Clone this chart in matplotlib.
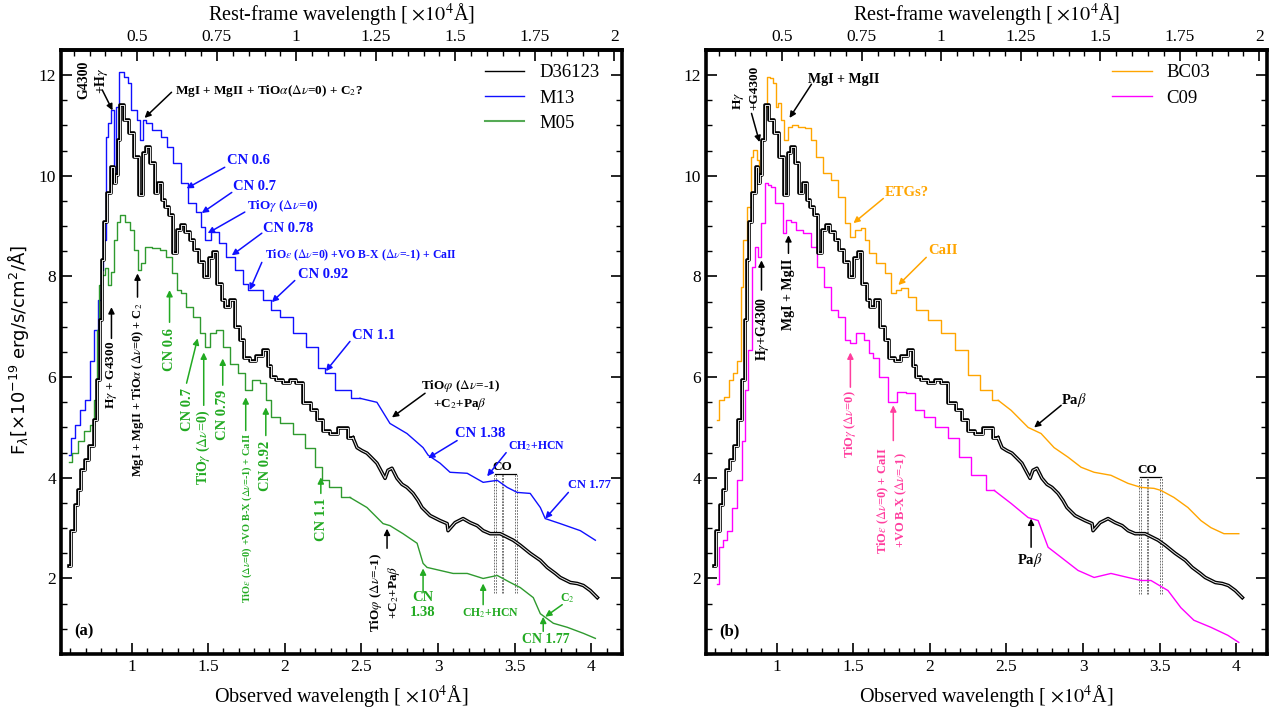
import matplotlib
matplotlib.use("Agg")
import matplotlib.pyplot as plt
from matplotlib.lines import Line2D
from matplotlib.ticker import MultipleLocator, FixedLocator, FuncFormatter

plt.rcParams["font.family"] = ["Liberation Serif", "DejaVu Serif"]
plt.rcParams["mathtext.fontset"] = "stix"

Z1 = 2.075  # 1 + z of D36123

# observed wavelength [1e4 A] and flux [1e-19 erg/s/cm2/A]
d361_wave = [0.595, 0.621, 0.641, 0.660, 0.686, 0.712, 0.739, 0.765, 0.784, 0.804,
             0.817, 0.830, 0.856, 0.876, 0.889, 0.902, 0.915, 0.935, 0.967, 1.000,
             1.033, 1.059, 1.085, 1.105, 1.137, 1.163, 1.183, 1.209, 1.229, 1.255,
             1.281, 1.307, 1.333, 1.366, 1.392, 1.425, 1.458, 1.490, 1.516, 1.542,
             1.575, 1.601, 1.621, 1.660, 1.693, 1.719, 1.752, 1.791, 1.837, 1.882,
             1.902, 1.922, 1.967, 2.013, 2.052, 2.098, 2.144, 2.196, 2.229, 2.275,
             2.314, 2.379, 2.444, 2.471, 2.503, 2.536, 2.569, 2.601, 2.654, 2.673,
             2.699, 2.732, 2.765, 2.797, 2.837, 2.869, 2.895, 2.948, 3.013, 3.059,
             3.065, 3.111, 3.163, 3.209, 3.255, 3.294, 3.340, 3.405, 3.451, 3.490,
             3.536, 3.601, 3.667, 3.712, 3.765, 3.797, 3.863, 3.908, 3.948, 3.993,
             4.039]
d361_flux = [2.24, 2.95, 3.45, 3.75, 4.15, 4.35, 4.64, 5.14, 5.94, 7.13,
             8.32, 9.08, 9.65, 10.17, 9.85, 10.01, 10.71, 11.40, 11.11, 10.85,
             10.37, 9.61, 10.45, 10.57, 10.25, 9.65, 9.85, 9.51, 9.38, 9.22,
             8.46, 8.92, 9.02, 8.88, 8.72, 8.52, 8.28, 7.98, 8.36, 8.48,
             7.86, 7.53, 7.39, 7.53, 6.99, 6.73, 6.39, 6.33, 6.43, 6.53,
             6.23, 6.00, 5.94, 5.88, 5.94, 5.88, 5.48, 5.34, 5.14, 4.94,
             4.88, 4.98, 4.80, 4.60, 4.54, 4.49, 4.39, 4.29, 3.99, 4.15,
             4.19, 3.99, 3.87, 3.81, 3.69, 3.55, 3.41, 3.25, 3.15, 3.09,
             2.95, 3.11, 3.19, 3.11, 3.05, 2.95, 2.89, 2.89, 2.82, 2.76,
             2.66, 2.50, 2.36, 2.22, 2.10, 2.02, 1.92, 1.90, 1.86, 1.76,
             1.62]

m13_wave = [0.595, 0.614, 0.647, 0.680, 0.712, 0.745, 0.771, 0.791, 0.810, 0.824,
            0.837, 0.856, 0.876, 0.895, 0.908, 0.935, 0.967, 0.987, 1.000, 1.026,
            1.039, 1.065, 1.085, 1.105, 1.163, 1.216, 1.248, 1.294, 1.346, 1.392,
            1.444, 1.464, 1.490, 1.542, 1.595, 1.641, 1.706, 1.752, 1.771, 1.817,
            1.902, 1.922, 2.013, 2.098, 2.183, 2.248, 2.275, 2.379, 2.490, 2.601,
            2.686, 2.797, 2.902, 2.935, 3.013, 3.078, 3.190, 3.294, 3.386, 3.451,
            3.516, 3.601, 3.667, 3.699, 3.797, 3.928, 4.026]
m13_flux = [4.45, 4.80, 5.04, 5.34, 5.54, 6.33, 6.93, 7.53, 8.12, 8.72,
            10.77, 11.05, 11.30, 9.97, 11.36, 12.06, 11.96, 11.84, 11.30, 11.30,
            11.11, 10.71, 11.11, 11.05, 10.91, 10.77, 10.57, 10.25, 9.85, 9.46,
            9.29, 8.98, 8.72, 8.88, 8.66, 8.38, 8.12, 7.86, 7.73, 7.73,
            7.53, 7.33, 7.19, 6.87, 6.59, 6.19, 6.08, 5.74, 5.58, 5.50,
            5.08, 4.88, 4.60, 4.45, 4.29, 4.11, 4.09, 3.91, 3.95, 3.81,
            3.71, 3.69, 3.41, 3.19, 3.09, 2.95, 2.76]

m05_wave = [0.595, 0.634, 0.673, 0.712, 0.745, 0.771, 0.784, 0.797, 0.817, 0.837,
            0.856, 0.876, 0.895, 0.915, 0.941, 0.974, 1.000, 1.033, 1.052, 1.072,
            1.105, 1.163, 1.203, 1.248, 1.281, 1.314, 1.333, 1.379, 1.425, 1.464,
            1.490, 1.529, 1.575, 1.621, 1.660, 1.725, 1.758, 1.817, 1.856, 1.902,
            1.922, 2.013, 2.098, 2.163, 2.229, 2.261, 2.314, 2.425, 2.536, 2.641,
            2.686, 2.771, 2.863, 2.902, 2.928, 3.013, 3.098, 3.190, 3.294, 3.386,
            3.471, 3.536, 3.621, 3.667, 3.752, 3.843, 3.948, 4.026]
m05_flux = [4.31, 4.50, 4.74, 4.94, 5.04, 5.54, 6.93, 7.83, 8.02, 8.16,
            7.83, 8.08, 8.72, 9.08, 9.22, 9.08, 8.92, 8.52, 8.12, 8.26,
            8.58, 8.56, 8.52, 8.38, 8.06, 7.73, 7.67, 7.39, 7.19, 6.87,
            6.59, 6.87, 6.93, 6.59, 6.27, 6.08, 5.74, 5.94, 5.88, 5.54,
            5.20, 5.08, 4.88, 4.60, 4.21, 3.95, 3.81, 3.61, 3.41, 3.09,
            3.05, 2.89, 2.70, 2.30, 2.22, 2.16, 2.10, 2.10, 2.00, 2.06,
            1.92, 1.82, 1.62, 1.30, 1.11, 1.03, 0.91, 0.81]

bc03_wave = [0.609, 0.642, 0.674, 0.707, 0.726, 0.759, 0.772, 0.792, 0.824, 0.837,
             0.857, 0.883, 0.889, 0.915, 0.928, 0.948, 0.967, 0.987, 1.000, 1.020,
             1.033, 1.065, 1.085, 1.117, 1.163, 1.208, 1.241, 1.274, 1.339, 1.378,
             1.423, 1.469, 1.489, 1.534, 1.567, 1.586, 1.619, 1.684, 1.730, 1.762,
             1.795, 1.834, 1.879, 1.945, 2.029, 2.121, 2.205, 2.290, 2.368, 2.446,
             2.531, 2.642, 2.726, 2.811, 2.902, 2.987, 3.072, 3.182, 3.293, 3.378,
             3.463, 3.508, 3.593, 3.684, 3.769, 3.834, 3.919, 4.016]
bc03_flux = [5.14, 5.54, 5.60, 5.94, 6.08, 6.33, 7.79, 8.72, 9.38, 10.37,
             10.51, 10.31, 10.05, 10.71, 11.36, 11.96, 11.94, 11.84, 11.36, 11.44,
             11.11, 10.71, 10.97, 11.01, 10.97, 10.95, 10.71, 10.37, 10.05, 9.91,
             9.57, 9.06, 8.78, 8.92, 8.96, 8.72, 8.46, 8.26, 8.06, 7.67,
             7.73, 7.77, 7.59, 7.33, 7.13, 6.87, 6.53, 6.04, 5.74, 5.54,
             5.34, 5.00, 4.88, 4.60, 4.41, 4.21, 4.11, 4.05, 3.89, 3.81,
             3.79, 3.75, 3.61, 3.41, 3.15, 3.01, 2.89, 2.89]

c09_wave = [0.609, 0.642, 0.661, 0.694, 0.726, 0.759, 0.785, 0.805, 0.824, 0.850,
            0.870, 0.889, 0.915, 0.935, 0.954, 0.980, 1.000, 1.033, 1.052, 1.078,
            1.111, 1.143, 1.208, 1.248, 1.280, 1.339, 1.378, 1.423, 1.469, 1.489,
            1.554, 1.586, 1.619, 1.638, 1.697, 1.762, 1.814, 1.879, 1.932, 1.990,
            2.075, 2.160, 2.225, 2.316, 2.420, 2.531, 2.642, 2.707, 2.772, 2.857,
            2.967, 3.072, 3.182, 3.293, 3.378, 3.443, 3.554, 3.638, 3.723, 3.834,
            3.945, 4.016]
c09_flux = [1.90, 2.62, 2.76, 2.95, 3.41, 3.95, 4.74, 5.74, 6.53, 8.18,
            8.58, 8.38, 9.06, 9.85, 9.81, 9.77, 9.46, 9.46, 8.86, 9.12,
            9.08, 8.92, 8.86, 8.58, 8.18, 7.79, 7.33, 7.19, 6.73, 6.67,
            6.87, 6.73, 6.47, 6.39, 6.00, 5.50, 5.70, 5.68, 5.34, 5.20,
            5.00, 4.80, 4.41, 4.05, 3.75, 3.49, 3.21, 3.15, 2.62, 2.42,
            2.16, 2.02, 2.10, 2.02, 1.96, 1.96, 1.76, 1.42, 1.17, 1.03,
            0.87, 0.73]

co_band = [3.37, 3.42, 3.51]

BLUE = "#1010ff"
GREEN_LINE = "#2f9a2f"
GREEN_TXT = "#22aa22"
ORANGE = "#ffa500"
MAGENTA = "#ff00ff"
PINK = "#ff3d9e"

STEP_END = 2.4  # the binning gets fine redwards of this, draw it as a plain line


def spectrum(ax, wave, flux, **kw):
    n = next(i for i, w in enumerate(wave) if w > STEP_END)
    ax.plot(wave[:n + 1], flux[:n + 1], drawstyle="steps-mid", **kw)
    ax.plot(wave[n:], flux[n:], **kw)


def note(ax, s, xy, tail=None, tip=None, color="k", size=10, rot=0,
         ha="left", va="center", ma="center"):
    ax.text(xy[0], xy[1], s, color=color, fontsize=size, rotation=rot, ha=ha,
            va=va, fontweight="bold", multialignment=ma, zorder=6)
    if tail is not None:
        ax.annotate("", xy=tip, xytext=tail, zorder=6,
                    arrowprops=dict(arrowstyle="-|>", color=color, lw=1.1,
                                    mutation_scale=9, shrinkA=0, shrinkB=0))


def co_marker(ax, y_top, y_bot, y_txt):
    ax.plot([co_band[0], co_band[-1]], [y_top, y_top], color="k", lw=0.9)
    for x in co_band:
        for dx in (-0.005, 0.005):
            ax.plot([x + dx, x + dx], [y_bot, y_top], color="0.35", lw=0.6,
                    ls=(0, (2, 1.5)))
    ax.text(sum(co_band[:2]) / 2 + 0.025, y_txt, "CO", fontsize=9.5,
            fontweight="bold", ha="center", va="center")


def plot_d361(ax):
    spectrum(ax, d361_wave, d361_flux, color="k", lw=2.6, zorder=4)
    spectrum(ax, d361_wave, d361_flux, color="#e6e6e6", lw=0.7, zorder=5)


def style(ax):
    ax.set_xlim(0.54, 4.2)
    ax.set_ylim(0.5, 12.5)
    ax.xaxis.set_major_locator(MultipleLocator(0.5))
    ax.xaxis.set_minor_locator(MultipleLocator(0.1))
    ax.yaxis.set_major_locator(MultipleLocator(2))
    ax.yaxis.set_minor_locator(MultipleLocator(0.5))
    ax.xaxis.set_major_formatter(FuncFormatter(lambda v, p: f"{v:g}"))
    ax.tick_params(which="both", direction="in", top=False, right=True, labelsize=12.5)
    ax.tick_params(which="major", length=8, width=1.2)
    ax.tick_params(which="minor", length=4.5, width=1.0)
    for sp in ax.spines.values():
        sp.set_linewidth(2.6)
    ax.set_xlabel("Observed wavelength [ $\\times10^4$Å]", fontsize=14.5, labelpad=6)
    sec = ax.secondary_xaxis("top", functions=(lambda x: x / Z1, lambda x: x * Z1))
    sec.xaxis.set_major_locator(FixedLocator([0.5, 0.75, 1, 1.25, 1.5, 1.75, 2]))
    sec.xaxis.set_minor_locator(MultipleLocator(0.05))
    sec.xaxis.set_major_formatter(FuncFormatter(lambda v, p: f"{v:g}"))
    sec.tick_params(which="both", direction="in", labelsize=12.5)
    sec.tick_params(which="major", length=8, width=1.2)
    sec.tick_params(which="minor", length=4.5, width=1.0)
    sec.spines["top"].set_linewidth(2.6)
    sec.set_xlabel("Rest-frame wavelength [ $\\times10^4$Å]", fontsize=14.5, labelpad=6)


fig = plt.figure(figsize=(12.82, 7.1), dpi=100)
axL = fig.add_axes([0.0476, 0.0789, 0.4376, 0.8507])
axR = fig.add_axes([0.5507, 0.0789, 0.4376, 0.8507])

# ---------------- panel (a)
plot_d361(axL)
spectrum(axL, m13_wave, m13_flux, color=BLUE, lw=1.0, zorder=3)
spectrum(axL, m05_wave, m05_flux, color=GREEN_LINE, lw=1.0, zorder=3)
style(axL)
axL.legend(handles=[Line2D([], [], color="k", lw=1.0),
                    Line2D([], [], color=BLUE, lw=1.0),
                    Line2D([], [], color="#55aa55", lw=1.5)],
           labels=["D36123", "M13", "M05"], loc="upper left",
           bbox_to_anchor=(0.742, 0.989), frameon=False, fontsize=13.5,
           handlelength=2.1, handletextpad=0.8, labelspacing=0.44, borderaxespad=0)

note(axL, "G4300\n+H$\\gamma$", (0.752, 11.90), (0.810, 11.70), (0.876, 11.30),
     size=10, rot=90, ha="center")
note(axL, "MgI + MgII + TiO$\\alpha$($\\Delta\\nu$=0) + C$_2$?", (1.281, 11.68),
     (1.261, 11.66), (1.085, 11.15), size=9.5)
note(axL, "CN 0.6", (1.621, 10.31), (1.608, 10.17), (1.359, 9.75), BLUE, 10.5)
note(axL, "CN 0.7", (1.660, 9.79), (1.654, 9.67), (1.458, 9.26), BLUE, 10.5)
note(axL, "TiO$\\gamma$ ($\\Delta\\nu$=0)", (1.752, 9.40), (1.739, 9.28), (1.497, 8.86), BLUE, 9.5)
note(axL, "CN 0.78", (1.856, 8.96), (1.850, 8.86), (1.654, 8.42), BLUE, 10.5)
note(axL, "TiO$\\epsilon$ ($\\Delta\\nu$=0) +VO B-X ($\\Delta\\nu$=-1) + CaII",
     (1.869, 8.42), (1.850, 8.28), (1.771, 7.73), BLUE, 8.5)
note(axL, "CN 0.92", (2.085, 8.04), (2.065, 7.92), (1.915, 7.49), BLUE, 10.5)
note(axL, "CN 1.1", (2.438, 6.83), (2.425, 6.71), (2.268, 6.12), BLUE, 10.5)
note(axL, "TiO$\\varphi$ ($\\Delta\\nu$=-1)\n+C$_2$+Pa$\\beta$", (3.144, 5.64),
     (2.915, 5.68), (2.699, 5.20), size=9.5, ha="center")
note(axL, "CN 1.38", (3.111, 4.88), (3.124, 4.74), (2.935, 4.39), BLUE, 10.5)
note(axL, "CH$_2$+HCN", (3.458, 4.62), (3.444, 4.50), (3.320, 4.03), BLUE, 8.5)
note(axL, "CN 1.77", (3.850, 3.85), (3.850, 3.71), (3.699, 3.19), BLUE, 9)
co_marker(axL, 4.07, 1.72, 4.21)

note(axL, "H$\\gamma$ + G4300", (0.869, 6.04), (0.869, 6.77), (0.869, 7.39),
     size=9.5, rot=90, ha="center")
note(axL, "MgI + MgII + TiO$\\alpha$ ($\\Delta\\nu$=0) + C$_2$", (1.039, 7.49),
     (1.039, 7.59), (1.039, 8.06), size=9, rot=90, ha="center", va="top")
note(axL, "CN 0.6", (1.248, 6.97), (1.248, 7.09), (1.248, 7.73), GREEN_TXT, 10.5,
     rot=90, ha="center", va="top")
note(axL, "CN 0.7", (1.366, 5.78), (1.359, 5.88), (1.431, 6.77), GREEN_TXT, 10.5,
     rot=90, ha="center", va="top")
note(axL, "TiO$\\gamma$ ($\\Delta\\nu$=0)", (1.471, 5.34), (1.471, 5.44), (1.471, 6.49),
     GREEN_TXT, 10, rot=90, ha="center", va="top")
note(axL, "CN 0.79", (1.595, 5.74), (1.595, 5.84), (1.595, 6.37), GREEN_TXT, 10.5,
     rot=90, ha="center", va="top")
note(axL, "TiO$\\epsilon$ ($\\Delta\\nu$=0) +VO B-X ($\\Delta\\nu$=-1) + CaII",
     (1.752, 4.88), (1.745, 4.94), (1.745, 5.60), GREEN_TXT, 7.5, rot=90,
     ha="center", va="top")
note(axL, "CN 0.92", (1.876, 4.74), (1.876, 4.84), (1.876, 5.40), GREEN_TXT, 10.5,
     rot=90, ha="center", va="top")
note(axL, "CN 1.1", (2.242, 3.61), (2.235, 3.69), (2.235, 4.01), GREEN_TXT, 10.5,
     rot=90, ha="center", va="top")
note(axL, "TiO$\\varphi$ ($\\Delta\\nu$=-1)\n+C$_2$+Pa$\\beta$", (2.654, 1.72),
     (2.667, 2.60), (2.667, 2.99), size=9.5, rot=90, ha="center")
note(axL, "CN\n1.38", (2.902, 1.48), (2.902, 1.72), (2.902, 2.20), GREEN_TXT, 10.5,
     ha="center")
note(axL, "CH$_2$+HCN", (3.340, 1.30), (3.294, 1.48), (3.294, 1.90), GREEN_TXT, 8.5,
     ha="center")
note(axL, "C$_2$", (3.843, 1.60), (3.810, 1.48), (3.699, 1.24), GREEN_TXT, 8.5,
     ha="center")
note(axL, "CN 1.77", (3.706, 0.79), (3.686, 0.95), (3.686, 1.24), GREEN_TXT, 10,
     ha="center")
note(axL, "(a)", (0.627, 0.95), size=12)

# ---------------- panel (b)
plot_d361(axR)
spectrum(axR, bc03_wave, bc03_flux, color=ORANGE, lw=1.0, zorder=3)
spectrum(axR, c09_wave, c09_flux, color=MAGENTA, lw=1.0, zorder=3)
style(axR)
axR.legend(handles=[Line2D([], [], color=ORANGE, lw=1.0),
                    Line2D([], [], color=MAGENTA, lw=1.0)],
           labels=["BC03", "C09"], loc="upper left",
           bbox_to_anchor=(0.711, 0.989), frameon=False, fontsize=13.5,
           handlelength=2.1, handletextpad=0.8, labelspacing=0.44, borderaxespad=0)

note(axR, "H$\\gamma$\n+G4300", (0.798, 11.74), (0.837, 11.24), (0.889, 10.67),
     size=9.5, rot=90, ha="center", ma="left")
note(axR, "MgI + MgII", (1.208, 11.92), (1.228, 11.82), (1.085, 11.15), size=10)
note(axR, "ETGs?", (1.704, 9.67), (1.697, 9.55), (1.502, 9.06), ORANGE, 10.5)
note(axR, "CaII", (1.990, 8.52), (1.977, 8.38), (1.795, 7.83), ORANGE, 10.5)
note(axR, "H$\\gamma$+G4300", (0.909, 7.59), (0.902, 7.73), (0.902, 8.32),
     size=10, rot=90, ha="center", va="top")
note(axR, "MgI + MgII", (1.078, 8.36), (1.078, 8.46), (1.078, 8.82),
     size=10, rot=90, ha="center", va="top")
note(axR, "TiO$\\gamma$ ($\\Delta\\nu$=0)", (1.482, 5.74), (1.482, 5.80), (1.482, 6.49),
     PINK, 9, rot=90, ha="center", va="top")
note(axR, "TiO$\\epsilon$ ($\\Delta\\nu$=0) + CaII\n+VO B-X ($\\Delta\\nu$=-1)",
     (1.756, 3.55), (1.762, 4.74), (1.762, 5.44), PINK, 9, rot=90, ha="center")
note(axR, "Pa$\\beta$", (2.857, 5.54), (2.857, 5.44), (2.681, 5.00), size=10.5)
note(axR, "Pa$\\beta$", (2.655, 2.36), (2.661, 2.62), (2.661, 3.19), size=10.5,
     ha="center")
co_marker(axR, 4.01, 1.70, 4.15)
note(axR, "(b)", (0.629, 0.95), size=12)

fig.text(0.014, 0.507, "F$_\\lambda$[$\\times10^{-19}$ erg/s/cm$^2$/Å]", rotation=90,
         va="center", ha="center", fontsize=13, family="DejaVu Sans",
         math_fontfamily="dejavusans")

fig.savefig("out.png", dpi=100)
